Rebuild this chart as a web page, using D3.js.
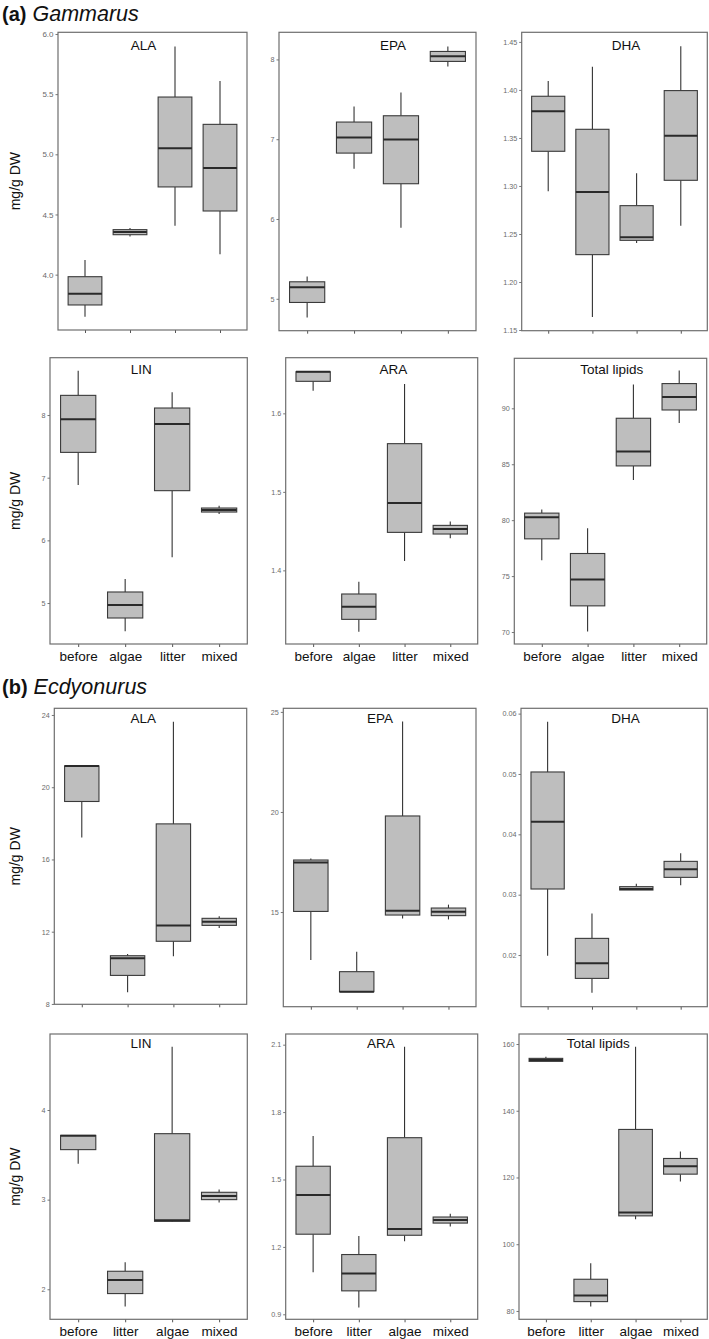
<!DOCTYPE html>
<html><head><meta charset="utf-8">
<script src="https://cdn.jsdelivr.net/npm/d3@7"></script>
<style>body{margin:0;background:#fff}svg{display:block}</style>
</head><body>
<script>
// ---------------- DATA ----------------
const catsGam = ["before", "algae", "litter", "mixed"];
const catsEcd = ["before", "litter", "algae", "mixed"];
// box stats per category: [lower whisker, Q1, median, Q3, upper whisker]
const gamALA = [[3.651,3.748,3.842,3.983,4.122],[4.316,4.332,4.355,4.374,4.388],[4.407,4.729,5.05,5.476,5.895],[4.169,4.529,4.886,5.249,5.61]];
const gamEPA = [[4.766,4.954,5.146,5.213,5.28],[6.63,6.826,7.023,7.215,7.411],[5.89,6.442,6.996,7.294,7.587],[7.91,7.975,8.04,8.1,8.163]];
const gamDHA = [[1.2944,1.3361,1.3778,1.3934,1.4094],[1.1635,1.2285,1.2937,1.359,1.424],[1.2406,1.2434,1.2465,1.2795,1.3132],[1.2587,1.3059,1.3524,1.3993,1.4455]];
const gamLIN = [[6.883,7.404,7.931,8.314,8.707],[4.548,4.761,4.968,5.176,5.383],[5.729,6.793,7.856,8.112,8.362],[6.42,6.452,6.484,6.516,6.553]];
const gamARA = [[1.6289,1.6408,1.653,1.653,1.653],[1.3219,1.3376,1.3537,1.3699,1.3856],[1.4119,1.4484,1.4858,1.5614,1.6374],[1.4408,1.4463,1.4527,1.4573,1.4624]];
const gamTOT = [[76.42,78.33,80.27,80.63,80.95],[70.05,72.34,74.69,77.02,79.28],[83.58,84.85,86.13,89.11,92.12],[88.69,89.85,91.01,92.21,93.37]];
const ecdALA = [[17.22,19.21,21.18,21.18,21.18],[8.65,9.58,10.53,10.67,10.76],[10.64,11.47,12.35,17.97,23.63],[12.2,12.35,12.55,12.74,12.85]];
const ecdEPA = [[12.6,15.03,17.48,17.6,17.68],[11.02,11.02,11.02,12.02,13.02],[14.68,14.85,15.07,19.8,24.52],[14.63,14.82,15.02,15.2,15.37]];
const ecdDHA = [[0.01989,0.03094,0.0421,0.05033,0.05867],[0.01376,0.01613,0.01862,0.02276,0.0269],[0.03077,0.03077,0.03094,0.03133,0.03182],[0.03155,0.03287,0.0342,0.03552,0.03685]];
const ecdLIN = [[3.401,3.558,3.714,3.717,3.717],[1.807,1.952,2.104,2.201,2.301],[2.751,2.758,2.77,3.736,4.706],[2.967,3.0,3.041,3.082,3.112]];
const ecdARA = [[1.0874,1.2565,1.4315,1.559,1.6936],[0.9303,1.0044,1.0815,1.166,1.249],[1.225,1.2518,1.2799,1.686,2.091],[1.291,1.306,1.32,1.333,1.348]];
const ecdTOT = [[154.8,154.8,155.2,155.7,156.2],[81.3,82.8,84.6,89.5,94.3],[107.5,108.5,109.5,134.4,159.2],[118.8,121.0,123.4,125.7,127.8]];

const ticksGamALA = ["4.0","4.5","5.0","5.5","6.0"];
const ticksGamEPA = ["5","6","7","8"];
const ticksGamDHA = ["1.15","1.20","1.25","1.30","1.35","1.40","1.45"];
const ticksGamLIN = ["5","6","7","8"];
const ticksGamARA = ["1.4","1.5","1.6"];
const ticksGamTOT = ["70","75","80","85","90"];
const ticksEcdALA = ["8","12","16","20","24"];
const ticksEcdEPA = ["15","20","25"];
const ticksEcdDHA = ["0.02","0.03","0.04","0.05","0.06"];
const ticksEcdLIN = ["2","3","4"];
const ticksEcdARA = ["0.9","1.2","1.5","1.8","2.1"];
const ticksEcdTOT = ["80","100","120","140","160"];

// y-axis ranges
const domGamALA = [3.540, 6.014];
const domGamEPA = [4.60, 8.34];
const domGamDHA = [1.1493, 1.46];
const domGamLIN = [4.346, 8.915];
const domGamARA = [1.3062, 1.6709];
const domGamTOT = [68.93, 94.47];
const domEcdALA = [7.98, 24.37];
const domEcdEPA = [10.27, 25.18];
const domEcdDHA = [0.01144, 0.06088];
const domEcdLIN = [1.665, 4.848];
const domEcdARA = [0.8778, 2.1475];
const domEcdTOT = [77.5, 163.0];

const titles = ["ALA","EPA","DHA","LIN","ARA","Total lipids","ALA","EPA","DHA","LIN","ARA","Total lipids"];

// ---------------- LAYOUT ----------------
const W = 709, H = 1339;
const panels = [
  {title: titles[0], cats: catsGam, data: gamALA, ticks: ticksGamALA, dom: domGamALA, x0: 58, x1: 247, y0: 32.3, y1: 330, tx: 143.5, ty: 50, xlab: false, tickFs: 8},
  {title: titles[1], cats: catsGam, data: gamEPA, ticks: ticksGamEPA, dom: domGamEPA, x0: 279, x1: 476, y0: 32.3, y1: 330.7, tx: 393, ty: 50, xlab: false},
  {title: titles[2], cats: catsGam, data: gamDHA, ticks: ticksGamDHA, dom: domGamDHA, x0: 521.7, x1: 707.3, y0: 32.3, y1: 330.7, tx: 626, ty: 50, xlab: false},
  {title: titles[3], cats: catsGam, data: gamLIN, ticks: ticksGamLIN, dom: domGamLIN, x0: 50, x1: 247.3, y0: 357.7, y1: 644, tx: 141.3, ty: 374.3, xlab: true},
  {title: titles[4], cats: catsGam, data: gamARA, ticks: ticksGamARA, dom: domGamARA, x0: 285.7, x1: 477.7, y0: 357.7, y1: 644, tx: 393.5, ty: 374.3, xlab: true},
  {title: titles[5], cats: catsGam, data: gamTOT, ticks: ticksGamTOT, dom: domGamTOT, x0: 514.3, x1: 706.7, y0: 358.3, y1: 644, tx: 611.7, ty: 374.3, xlab: true},
  {title: titles[6], cats: catsEcd, data: ecdALA, ticks: ticksEcdALA, dom: domEcdALA, x0: 54.3, x1: 246.7, y0: 708.3, y1: 1004.3, tx: 143.3, ty: 723.3, xlab: false},
  {title: titles[7], cats: catsEcd, data: ecdEPA, ticks: ticksEcdEPA, dom: domEcdEPA, x0: 283.3, x1: 476, y0: 708.3, y1: 1006.7, tx: 380, ty: 723.3, xlab: false},
  {title: titles[8], cats: catsEcd, data: ecdDHA, ticks: ticksEcdDHA, dom: domEcdDHA, x0: 521, x1: 707.3, y0: 708.3, y1: 1006.7, tx: 625.5, ty: 723.3, xlab: false},
  {title: titles[9], cats: catsEcd, data: ecdLIN, ticks: ticksEcdLIN, dom: domEcdLIN, x0: 50, x1: 247.3, y0: 1034, y1: 1319.3, tx: 141, ty: 1048, xlab: true},
  {title: titles[10], cats: catsEcd, data: ecdARA, ticks: ticksEcdARA, dom: domEcdARA, x0: 285.7, x1: 477.7, y0: 1034, y1: 1319.3, tx: 381, ty: 1048, xlab: true},
  {title: titles[11], cats: catsEcd, data: ecdTOT, ticks: ticksEcdTOT, dom: domEcdTOT, x0: 519, x1: 707.3, y0: 1034, y1: 1319.3, tx: 598.3, ty: 1048, xlab: true}
];

const FONT = "'Liberation Sans', Arial, sans-serif";
const svg = d3.select("body").append("svg").attr("width", W).attr("height", H)
  .style("font-family", FONT);

// Section headings
function heading(y, tag, name) {
  const t = svg.append("text").attr("x", 2).attr("y", y).attr("fill", "#111");
  t.append("tspan").attr("font-weight", "bold").attr("font-size", 20).text(tag);
  t.append("tspan").attr("dx", 6).attr("font-style", "italic").attr("font-size", 21.5).text(name);
}
heading(20.5, "(a)", "Gammarus");
heading(694, "(b)", "Ecdyonurus");

panels.forEach((p, i) => {
  const g = svg.append("g");
  const x = d3.scalePoint().domain(p.cats).range([p.x0, p.x1]).padding(0.6);
  const y = d3.scaleLinear().domain(p.dom).range([p.y1, p.y0]);
  const bw = x.step() * 0.75;

  // y-axis label for left column
  if (i % 3 === 0) {
    const cy = (p.y0 + p.y1) / 2;
    svg.append("text").attr("transform", `translate(20,${cy}) rotate(-90)`)
      .attr("text-anchor", "middle").attr("font-size", 14).attr("fill", "#111").text("mg/g DW");
  }

  // y axis
  const yAxis = d3.axisLeft(y).tickValues(p.ticks.map(Number))
    .tickFormat((d, k) => p.ticks[k]).tickSize(2.5).tickPadding(2);
  const ya = g.append("g").attr("transform", `translate(${p.x0},0)`).call(yAxis);
  ya.select(".domain").remove();
  ya.selectAll("line").attr("stroke", "#777");
  ya.selectAll("text").attr("fill", "#6a6a6a").attr("font-size", p.tickFs || 7.2).attr("font-family", FONT);

  // x axis
  const xAxis = d3.axisBottom(x).tickSize(3).tickPadding(4).tickFormat(p.xlab ? (d => d) : () => "");
  const xa = g.append("g").attr("transform", `translate(0,${p.y1})`).call(xAxis);
  xa.select(".domain").remove();
  xa.selectAll("line").attr("stroke", "#555");
  xa.selectAll("text").attr("fill", "#111").attr("font-size", 13.5).attr("font-family", FONT);

  // boxes
  const bx = g.selectAll("g.box").data(p.data).join("g").attr("class", "box")
    .attr("transform", (d, k) => `translate(${x(p.cats[k])},0)`);
  bx.append("line").attr("x1", 0).attr("x2", 0)
    .attr("y1", d => y(d[4])).attr("y2", d => y(d[3]))
    .attr("stroke", "#333").attr("stroke-width", 1.1);
  bx.append("line").attr("x1", 0).attr("x2", 0)
    .attr("y1", d => y(d[1])).attr("y2", d => y(d[0]))
    .attr("stroke", "#333").attr("stroke-width", 1.1);
  bx.append("rect").attr("x", -bw / 2).attr("width", bw)
    .attr("y", d => y(d[3])).attr("height", d => Math.max(0.5, y(d[1]) - y(d[3])))
    .attr("fill", "#bebebe").attr("stroke", "#3a3a3a").attr("stroke-width", 1.1);
  bx.append("line").attr("x1", -bw / 2).attr("x2", bw / 2)
    .attr("y1", d => y(d[2])).attr("y2", d => y(d[2]))
    .attr("stroke", "#2a2a2a").attr("stroke-width", 2);

  // panel border
  g.append("rect").attr("x", p.x0).attr("y", p.y0).attr("width", p.x1 - p.x0).attr("height", p.y1 - p.y0)
    .attr("fill", "none").attr("stroke", "#6e6e6e").attr("stroke-width", 1.2);

  // panel title
  g.append("text").attr("x", p.tx).attr("y", p.ty).attr("text-anchor", "middle")
    .attr("font-size", 13.5).attr("fill", "#111").text(p.title);
});
</script>
</body></html>
